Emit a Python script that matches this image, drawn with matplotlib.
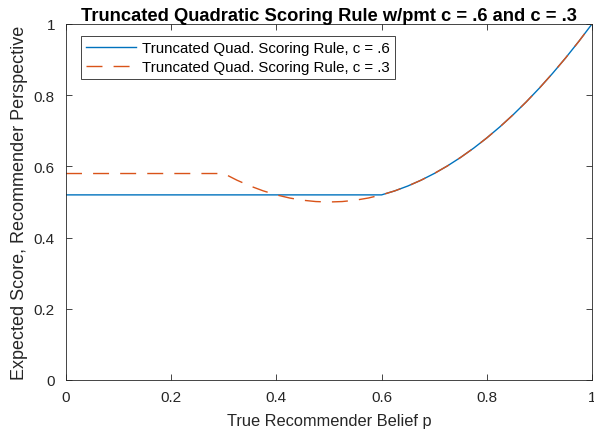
import matplotlib
matplotlib.use("Agg")
import matplotlib.pyplot as plt

plt.rcParams['font.family'] = ['Liberation Sans', 'DejaVu Sans']

# c = .6 curve (readings)
p_c6 = [0.0, 0.6, 0.625, 0.65, 0.675, 0.7, 0.725, 0.75, 0.775, 0.8, 0.825, 0.85,
        0.875, 0.9, 0.925, 0.95, 0.975, 1.0]
s_c6 = [0.52, 0.52, 0.53125, 0.545, 0.56125, 0.58, 0.60125, 0.625, 0.65125, 0.68,
        0.71125, 0.745, 0.78125, 0.82, 0.86125, 0.905, 0.95125, 1.0]

# c = .3 curve (readings)
p_c3 = [0.0, 0.3, 0.325, 0.35, 0.375, 0.4, 0.425, 0.45, 0.475, 0.5, 0.525, 0.55,
        0.575, 0.6, 0.625, 0.65, 0.675, 0.7, 0.725, 0.75, 0.775, 0.8, 0.825, 0.85,
        0.875, 0.9, 0.925, 0.95, 0.975, 1.0]
s_c3 = [0.58, 0.58, 0.56125, 0.545, 0.53125, 0.52, 0.51125, 0.505, 0.50125, 0.5,
        0.50125, 0.505, 0.51125, 0.52, 0.53125, 0.545, 0.56125, 0.58, 0.60125, 0.625,
        0.65125, 0.68, 0.71125, 0.745, 0.78125, 0.82, 0.86125, 0.905, 0.95125, 1.0]

labels = ["Truncated Quad. Scoring Rule, c = .6", "Truncated Quad. Scoring Rule, c = .3"]
ticks = [0, 0.2, 0.4, 0.6, 0.8, 1]
tick_labels = ["0", "0.2", "0.4", "0.6", "0.8", "1"]

fig = plt.figure(figsize=(5.94, 4.39), dpi=100)
ax = fig.add_axes([66/594, 1 - 381/439, 526/594, 356/439])

ax.plot(p_c6, s_c6, color='#0072BD', lw=1.0, label=labels[0])
ax.plot(p_c3, s_c3, color='#D95319', lw=1.0, dashes=(11.5, 8), label=labels[1])

ax.set_xlim(0, 1)
ax.set_ylim(0, 1)
ax.set_xticks(ticks)
ax.set_xticklabels(tick_labels)
ax.set_yticks(ticks)
ax.set_yticklabels(tick_labels)
ax.tick_params(direction='in', top=True, right=True, labelsize=11, colors='#262626',
               length=4, width=0.6)
ax.tick_params(axis='x', pad=7)
ax.tick_params(axis='y', pad=8)
for sp in ax.spines.values():
    sp.set_color('#262626')
    sp.set_linewidth(0.6)

ax.set_xlabel("True Recommender Belief p", fontsize=11.8, color='#262626', labelpad=7)
ax.set_ylabel("Expected Score, Recommender Perspective", fontsize=13, color='#262626',
              labelpad=4)
ax.set_title("Truncated Quadratic Scoring Rule w/pmt c = .6 and c = .3", fontsize=13.2,
             fontweight='bold', pad=3)

leg = ax.legend(loc='upper left', bbox_to_anchor=(15/526, 1 - 12/356), borderaxespad=0,
                fontsize=10.8, frameon=True, fancybox=False, framealpha=1,
                edgecolor='#262626', handlelength=3.3, borderpad=0.35,
                labelspacing=0.3, handletextpad=0.4)
leg.get_frame().set_linewidth(0.6)

fig.savefig("out.png", dpi=100)
